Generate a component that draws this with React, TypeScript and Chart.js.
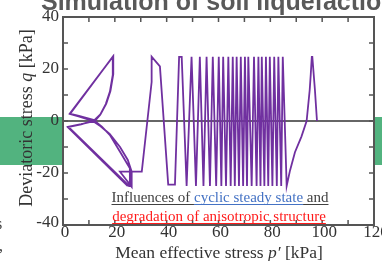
import React, { useEffect, useRef } from "react";
import { Chart, registerables } from "chart.js";

Chart.register(...registerables);

// Axis ticks
const xTickValues = [0, 20, 40, 60, 80, 100, 120];
const yTickValues = [40, 20, 0, -20, -40];

// Initial loading and first unloading (p', q)
const startP = [98, 97.2, 96.2, 96.0, 95.6, 95.2, 94.0, 92.0, 89.5, 87.6, 86.3];
const startQ = [0, 12, 24.7, 24.7, 18, 12, 0, -6, -12, -19, -25];

// Dense cyclic part: p' at each compression peak and each extension trough
const cycleTopP = [84.8, 83.1, 81.5, 79.8, 78.3, 76.7, 75.4, 73.7, 71.5, 70.2, 68.6, 67.0, 65.5, 63.8, 61.8, 60.1, 57.8, 55.4, 52.8, 49.6];
const cycleBottomP = [84.2, 82.5, 80.8, 79.2, 77.7, 76.2, 74.7, 72.8, 71.0, 69.5, 67.9, 66.3, 64.7, 62.9, 61.1, 59.1, 56.7, 54.2, 51.3, 47.7];
const cycleTopQ = 24.7;
const cycleBottomQ = -25;

// Final part: liquefaction and butterfly loops
const endP = [45.8, 44.8, 43.2, 40.6, 37.4, 34.2, 34.2, 30.4, 22, 26.5, 26.5, 25, 22, 18, 14.5, 11.5, 6, 2.7, 19.2, 19.2, 18.1, 16.5, 14.3, 12.3, 7, 2, 25.5, 25.8, 22, 18.1, 15, 11.7, 6.5, 2.6, 19.4, 19.4, 18.3, 16.7, 14.5, 12, 7, 1.9, 25];
const endQ = [24.7, 24.7, -24.5, -24.5, 21, 24.7, 15, -19.5, -19.5, -25.3, -19.5, -15, -10, -5, -2, 0, 1.8, 2.7, 24.7, 17.7, 11.3, 6.5, 2.3, 0, -1.2, -2.2, -25, -18.2, -11.8, -5.4, -2.2, 0.5, 1.9, 2.8, 24.9, 18, 11.5, 6.7, 2.6, 0.2, -1.3, -2.4, -25];

const SERIF = '"Liberation Serif", "Times New Roman", serif';
const SANS = '"Liberation Sans", Arial, sans-serif';

function buildPath() {
  const pts: { x: number; y: number }[] = [];
  startP.forEach((p, i) => pts.push({ x: p, y: startQ[i] }));
  for (let i = 0; i < cycleTopP.length; i++) {
    pts.push({ x: cycleTopP[i], y: cycleTopQ });
    pts.push({ x: cycleBottomP[i], y: cycleBottomQ });
  }
  endP.forEach((p, i) => pts.push({ x: p, y: endQ[i] }));
  return pts;
}

function drawParts(ctx: CanvasRenderingContext2D, parts: { t: string; font: string }[], x: number, y: number, align: "center" | "left") {
  let total = 0;
  parts.forEach((pt) => {
    ctx.font = pt.font;
    total += ctx.measureText(pt.t).width;
  });
  let cx = align === "center" ? x - total / 2 : x;
  ctx.textAlign = "left";
  parts.forEach((pt) => {
    ctx.font = pt.font;
    ctx.fillText(pt.t, cx, y);
    cx += ctx.measureText(pt.t).width;
  });
}

const decorPlugin = {
  id: "decor",
  beforeDraw(chart: any) {
    const ctx: CanvasRenderingContext2D = chart.ctx;
    const { left, right } = chart.chartArea;
    const ys = chart.scales.y;
    ctx.save();
    ctx.fillStyle = "#ffffff";
    ctx.fillRect(0, 0, chart.width, chart.height);
    // green bands at both sides
    ctx.fillStyle = "#52B37F";
    ctx.fillRect(0, 117, left - 1, 48);
    ctx.fillRect(right, 117, chart.width - right, 48);
    // cut-off slide title
    ctx.fillStyle = "#595959";
    ctx.font = "bold 25px " + SANS;
    ctx.textBaseline = "alphabetic";
    ctx.textAlign = "left";
    ctx.fillText("Simulation of soil liquefaction", 41, 10);
    // stray glyphs from slide at the left edge
    ctx.font = "16px " + SERIF;
    ctx.fillStyle = "#404040";
    ctx.fillText("s", -4, 229);
    ctx.fillText(",", -1, 251);
    ctx.restore();
    // zero line drawn below data
    ctx.save();
    ctx.strokeStyle = "#333333";
    ctx.lineWidth = 1.5;
    const y0 = ys.getPixelForValue(0);
    ctx.beginPath();
    ctx.moveTo(left, y0);
    ctx.lineTo(right, y0);
    ctx.stroke();
    ctx.restore();
  },
  afterDraw(chart: any) {
    const ctx: CanvasRenderingContext2D = chart.ctx;
    const { left, right, top, bottom } = chart.chartArea;
    const xs = chart.scales.x;
    const ys = chart.scales.y;
    ctx.save();
    // frame
    ctx.strokeStyle = "#555555";
    ctx.lineWidth = 2;
    ctx.strokeRect(left, top, right - left, bottom - top);
    // inward ticks every 10
    ctx.lineWidth = 1.5;
    ctx.beginPath();
    for (let v = 10; v < 120; v += 10) {
      const px = xs.getPixelForValue(v);
      ctx.moveTo(px, bottom);
      ctx.lineTo(px, bottom - 5);
      ctx.moveTo(px, top);
      ctx.lineTo(px, top + 5);
    }
    for (let v = -30; v < 40; v += 10) {
      const py = ys.getPixelForValue(v);
      ctx.moveTo(left, py);
      ctx.lineTo(left + 5, py);
      ctx.moveTo(right, py);
      ctx.lineTo(right - 5, py);
    }
    ctx.stroke();

    // tick labels
    ctx.fillStyle = "#333333";
    ctx.font = "17px " + SERIF;
    ctx.textBaseline = "middle";
    ctx.textAlign = "center";
    xTickValues.forEach((v) => {
      ctx.fillText(String(v), xs.getPixelForValue(v) + 2, bottom + 8);
    });
    ctx.textAlign = "right";
    yTickValues.forEach((v) => {
      ctx.fillText(String(v), left - 4, ys.getPixelForValue(v) - (v === -40 ? 2 : 0));
    });

    // axis titles
    ctx.textBaseline = "alphabetic";
    drawParts(ctx, [
      { t: "Mean effective stress ", font: "17.5px " + SERIF },
      { t: "p\u2032", font: "italic 17.5px " + SERIF },
      { t: " [kPa]", font: "17.5px " + SERIF },
    ], 219, 258, "center");

    ctx.save();
    ctx.translate(32, 118);
    ctx.rotate(-Math.PI / 2);
    drawParts(ctx, [
      { t: "Deviatoric stress ", font: "18px " + SERIF },
      { t: "q", font: "italic 18px " + SERIF },
      { t: " [kPa]", font: "18px " + SERIF },
    ], 0, 0, "center");
    ctx.restore();

    // annotation text
    ctx.font = "15px " + SERIF;
    const l1 = [
      { t: "Influences of ", c: "#404040" },
      { t: "cyclic steady state", c: "#4472C4" },
      { t: " and", c: "#404040" },
    ];
    let w1 = 0;
    l1.forEach((s) => (w1 += ctx.measureText(s.t).width));
    let cx = 220 - w1 / 2;
    ctx.textAlign = "left";
    l1.forEach((s) => {
      const w = ctx.measureText(s.t).width;
      ctx.fillStyle = s.c;
      ctx.fillText(s.t, cx, 202);
      ctx.fillRect(cx, 204, w, 1);
      cx += w;
    });
    const l2 = "degradation of anisotropic structure";
    const w2 = ctx.measureText(l2).width;
    ctx.fillStyle = "#FF1A1A";
    ctx.fillText(l2, 219 - w2 / 2, 221);
    ctx.fillRect(219 - w2 / 2, 223, w2, 1);
    ctx.restore();
  },
};

export default function App() {
  const ref = useRef<HTMLCanvasElement | null>(null);
  useEffect(() => {
    document.body.style.margin = "0";
    const canvas = ref.current;
    if (!canvas) return;
    const chart = new Chart(canvas, {
      type: "scatter",
      data: {
        datasets: [
          {
            data: buildPath(),
            showLine: true,
            borderColor: "#7030A0",
            borderWidth: 1.8,
            pointRadius: 0,
            tension: 0,
            fill: false,
          },
        ],
      },
      options: {
        responsive: false,
        animation: false,
        devicePixelRatio: 1,
        layout: { padding: { left: 63, right: 8, top: 17, bottom: 36 } },
        plugins: { legend: { display: false }, tooltip: { enabled: false } },
        scales: {
          x: { type: "linear", min: 0, max: 120, display: false },
          y: { type: "linear", min: -40, max: 40, display: false },
        },
      },
      plugins: [decorPlugin],
    } as any);
    return () => chart.destroy();
  }, []);
  return (
    <div style={{ width: 382, height: 261, position: "relative", overflow: "hidden" }}>
      <canvas ref={ref} width={382} height={261} style={{ display: "block" }} />
    </div>
  );
}
